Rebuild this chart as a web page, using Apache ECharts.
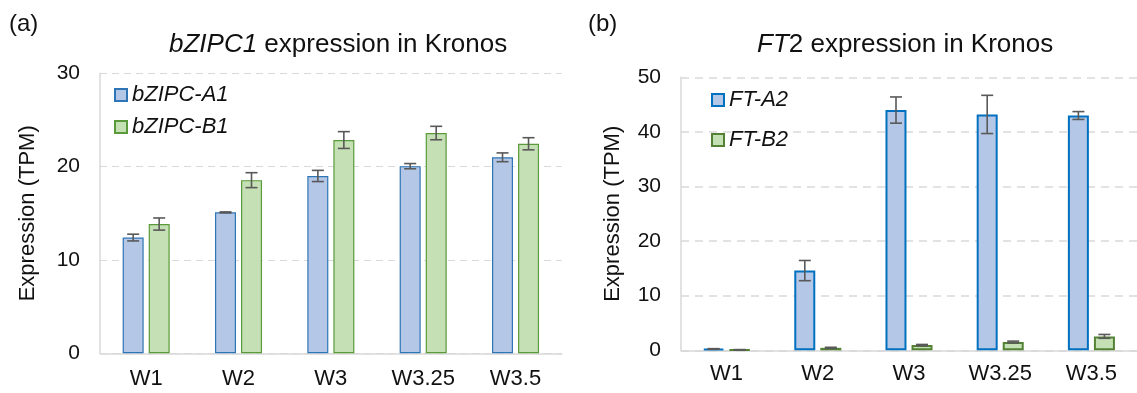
<!DOCTYPE html>
<html><head><meta charset="utf-8">
<script src="https://cdn.jsdelivr.net/npm/echarts@6/dist/echarts.min.js"></script>
<style>html,body{margin:0;padding:0;background:#fff}#c{width:1137px;height:393px}</style>
</head><body><div id="c"></div>
<script>
const categories = ['W1','W2','W3','W3.25','W3.5'];
const a1 = [12.4, 15.1, 19.0, 20.05, 21.0];
const a1Err = [0.36, 0.05, 0.6, 0.28, 0.47];
const b1 = [13.85, 18.55, 22.85, 23.6, 22.45];
const b1Err = [0.65, 0.8, 0.9, 0.72, 0.65];
const a2 = [0.25, 14.6, 44.0, 43.2, 43.0];
const a2Err = [0.05, 1.85, 2.4, 3.5, 0.72];
const b2 = [0.1, 0.45, 0.95, 1.5, 2.55];
const b2Err = [0.03, 0.1, 0.12, 0.18, 0.35];
const yTicksA = [0, 10, 20, 30];
const yTicksB = [0, 10, 20, 30, 40, 50];

const FONT = '"Liberation Sans", Arial, sans-serif';
const chart = echarts.init(document.getElementById('c'), null, {renderer:'canvas'});

const BW = 21, OFF = 13;
function errData(vals, errs){ return vals.map((v,i)=>[i, v-errs[i], v+errs[i]]); }
function errSeries(vals, errs, off, axisIdx){
  return {
    type:'custom', xAxisIndex:axisIdx, yAxisIndex:axisIdx, z:10, silent:true,
    data: errData(vals, errs), encode:{x:0, y:[1,2]},
    renderItem(params, api){
      const lo = api.coord([api.value(0), api.value(1)]);
      const hi = api.coord([api.value(0), api.value(2)]);
      const x = lo[0] + off, h = 6;
      const st = {stroke:'#595959', lineWidth:1.6};
      return {type:'group', children:[
        {type:'line', shape:{x1:x, y1:lo[1], x2:x, y2:hi[1]}, style:st},
        {type:'line', shape:{x1:x-h, y1:lo[1], x2:x+h, y2:lo[1]}, style:st},
        {type:'line', shape:{x1:x-h, y1:hi[1], x2:x+h, y2:hi[1]}, style:st}
      ]};
    }
  };
}
function xAxis(idx, margin){
  return {type:'category', gridIndex:idx, data:categories,
    axisLine:{show:true, lineStyle:{color:'#D9D9D9', width:1.5}},
    axisTick:{show:false}, axisLabel:{margin:margin, fontFamily:FONT, fontSize:22, color:'#111'}};
}
function yAxis(idx, max, gap, dash, lw){
  return {type:'value', gridIndex:idx, min:0, max:max, interval:10,
    name:'Expression (TPM)', nameLocation:'middle', nameGap:gap,
    nameTextStyle:{fontFamily:FONT, fontSize:22, color:'#111'},
    axisLine:{show:true, lineStyle:{color:'#D9D9D9', width:1.5}},
    axisTick:{show:false}, axisLabel:{margin:20, fontFamily:FONT, fontSize:21, color:'#111'},
    splitLine:{show:true, lineStyle:{color:'#D9D9D9', type:dash, width:lw}}};
}
chart.setOption({
  animation:false,
  textStyle:{fontFamily:FONT},
  title:[
    {text:'(a)', left:9, top:12, padding:0, textStyle:{fontFamily:FONT, fontSize:24, fontWeight:'normal', color:'#111'}},
    {text:'(b)', left:588, top:12, padding:0, textStyle:{fontFamily:FONT, fontSize:24, fontWeight:'normal', color:'#111'}},
    {text:'{i|bZIPC1} expression in Kronos', left:169, top:32, padding:0,
      textStyle:{fontFamily:FONT, fontSize:26, fontWeight:'normal', color:'#111',
        rich:{i:{fontFamily:FONT, fontSize:26, fontStyle:'italic', color:'#111'}}}},
    {text:'{i|FT}2 expression in Kronos', left:757, top:32, padding:0,
      textStyle:{fontFamily:FONT, fontSize:26, fontWeight:'normal', color:'#111',
        rich:{i:{fontFamily:FONT, fontSize:26, fontStyle:'italic', color:'#111'}}}}
  ],
  legend:[
    {orient:'vertical', left:114, top:84, padding:0, itemWidth:12, itemHeight:12, itemGap:10, icon:'rect',
      data:['bZIPC-A1','bZIPC-B1'],
      textStyle:{fontFamily:FONT, fontSize:22, fontStyle:'italic', color:'#111'}},
    {orient:'vertical', left:711, top:89, padding:0, itemWidth:12, itemHeight:12, itemGap:18, icon:'rect',
      data:['FT-A2','FT-B2'],
      textStyle:{fontFamily:FONT, fontSize:22, fontStyle:'italic', color:'#111'}}
  ],
  grid:[
    {left:100, top:73.3, width:461.7, height:280},
    {left:681, top:77.3, width:463, height:273}
  ],
  xAxis:[xAxis(0,15), xAxis(1,13)],
  yAxis:[yAxis(0,30,61,[7,5],1), yAxis(1,50,57,[8,6],1.5)],
  series:[
    {name:'bZIPC-A1', type:'bar', xAxisIndex:0, yAxisIndex:0, data:a1, barWidth:BW, barGap:'24%',
      itemStyle:{color:'#B4C7E7', borderColor:'#2E75B6', borderWidth:1.2}},
    {name:'bZIPC-B1', type:'bar', xAxisIndex:0, yAxisIndex:0, data:b1, barWidth:BW, barGap:'24%',
      itemStyle:{color:'#C5E0B4', borderColor:'#5B9A3B', borderWidth:1.2}},
    {name:'FT-A2', type:'bar', xAxisIndex:1, yAxisIndex:1, data:a2, barWidth:BW, barGap:'24%',
      itemStyle:{color:'#B4C7E7', borderColor:'#0070C0', borderWidth:2}},
    {name:'FT-B2', type:'bar', xAxisIndex:1, yAxisIndex:1, data:b2, barWidth:BW, barGap:'24%',
      itemStyle:{color:'#C5E0B4', borderColor:'#548235', borderWidth:2}},
    errSeries(a1, a1Err, -OFF, 0),
    errSeries(b1, b1Err, OFF, 0),
    errSeries(a2, a2Err, -OFF, 1),
    errSeries(b2, b2Err, OFF, 1)
  ]
});
</script></body></html>
